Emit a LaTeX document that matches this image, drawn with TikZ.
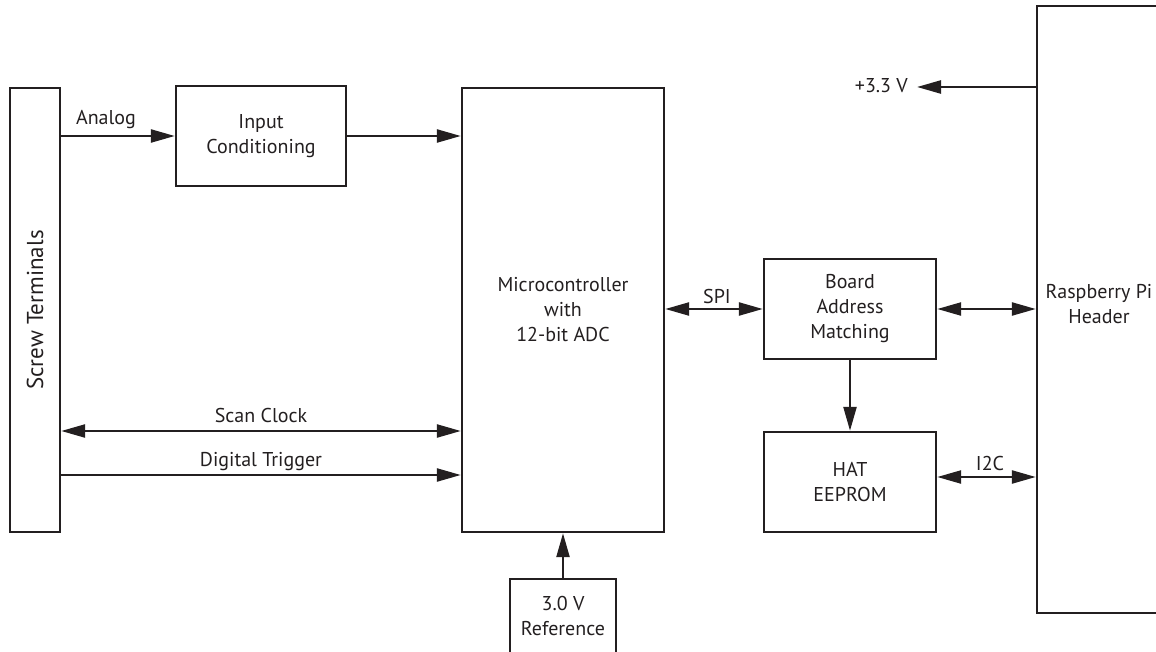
\documentclass[tikz,border=0pt]{standalone}
\usepackage{fontspec}
\setmainfont{PT Sans}
\usetikzlibrary{arrows.meta}
\definecolor{ink}{HTML}{231F20}
\begin{document}
\begin{tikzpicture}[x=1pt,y=-1pt,
  box/.style={draw=ink, line width=2.4pt, text=ink, font=\fontsize{20}{25}\selectfont,
    align=center, inner sep=0pt},
  txt/.style={text=ink, font=\fontsize{20}{25}\selectfont, align=center, inner sep=0pt},
  conn/.style={draw=ink, line width=2.4pt, -{Triangle[length=24pt,width=13pt]}},
  bconn/.style={draw=ink, line width=2.4pt, {Triangle[length=24pt,width=13pt]}-{Triangle[length=24pt,width=13pt]}}]
\useasboundingbox (0,0) rectangle (1156,652);
\clip (0,0) rectangle (1156,652);
% blocks
\node[box, minimum width=50, minimum height=444, font=\fontsize{23}{25}\selectfont] (screw) at (35,310) {\rotatebox{90}{Screw Terminals}};
\node[box, minimum width=170, minimum height=100] (inp) at (261,136) {Input\\Conditioning};
\node[box, minimum width=202, minimum height=444] (micro) at (563,310) {Microcontroller\\with\\12-bit ADC};
\node[box, minimum width=106, minimum height=100] (ref) at (563,629) {};
\node[txt, anchor=base] (reft) at (563,635) {3.0 V\\Reference};
\node[box, minimum width=172, minimum height=100] (board) at (850,309) {Board\\Address\\Matching};
\node[box, minimum width=172, minimum height=100] (hat) at (850,482) {HAT\\EEPROM};
\node[box, minimum width=122, minimum height=607] (rpi) at (1098,309.5) {};
\node[txt] (rpit) at (1099,304) {Raspberry Pi\\Header};
% labels
\node[txt, anchor=base] (lan) at (106,125) {Analog};
\node[txt, anchor=base] (lsc) at (261,422) {Scan Clock};
\node[txt, anchor=base] (ldt) at (261,466) {Digital Trigger};
\node[txt, anchor=base] (lspi) at (717,303) {SPI};
\node[txt, anchor=base] (li2c) at (990,470) {I2C};
\node[txt, anchor=base east] (lv) at (908,93) {+3.3 V};
% helper coordinates
\coordinate (pv) at (917,87);
\coordinate (sc) at (0,431);
\coordinate (dt) at (0,475);
\coordinate (i2) at (0,477);
% connectors
\draw[conn] (screw.east |- inp.west) -- (inp.west);
\draw[conn] (inp.east) -- (inp.east -| micro.west);
\draw[bconn] (sc -| screw.east) -- (sc -| micro.west);
\draw[conn] (dt -| screw.east) -- (dt -| micro.west);
\draw[conn] (ref.north) -- (micro.south);
\draw[bconn] (micro.east |- board.west) -- (board.west);
\draw[bconn] (board.east) -- (board.east -| rpi.west);
\draw[conn] (board.south) -- (hat.north);
\draw[bconn] (i2 -| hat.east) -- (i2 -| rpi.west);
\draw[conn] (rpi.west |- pv) -- (pv);
\end{tikzpicture}
\end{document}
